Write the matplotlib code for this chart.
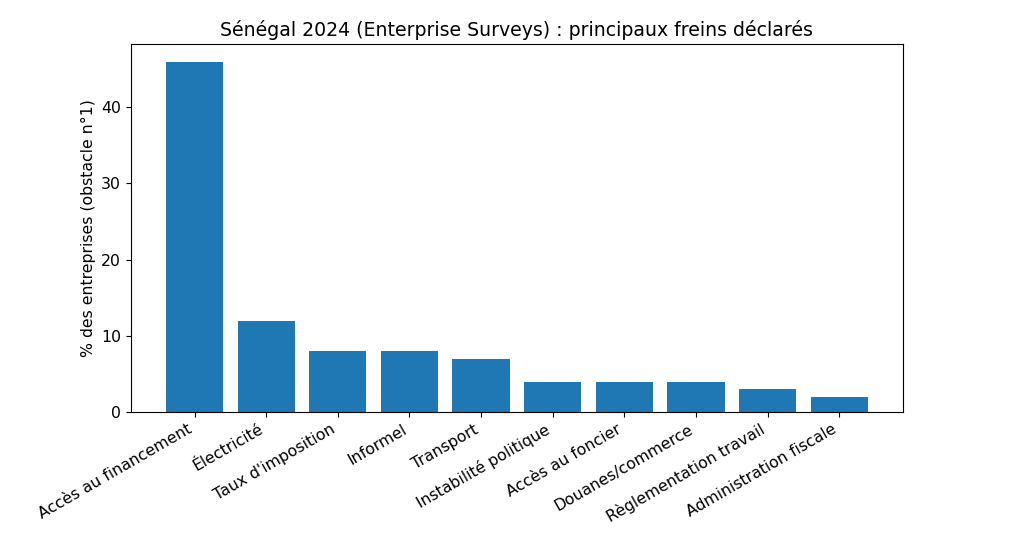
import matplotlib
matplotlib.use("Agg")
import matplotlib.pyplot as plt

categories = ["Accès au financement", "Électricité", "Taux d'imposition", "Informel",
              "Transport", "Instabilité politique", "Accès au foncier",
              "Douanes/commerce", "Règlementation travail", "Administration fiscale"]
values = [46, 12, 8, 8, 7, 4, 4, 4, 3, 2]

fig = plt.figure(figsize=(10.14, 5.39), dpi=100)
ax = fig.add_axes([0.129, 0.2356, 0.7615, 0.6828])
ax.bar(categories, values, color="#1f77b4")
ax.set_ylabel("% des entreprises (obstacle n°1)", fontsize=11.35)
ax.set_title("Sénégal 2024 (Enterprise Surveys) : principaux freins déclarés", fontsize=13.6)
ax.tick_params(labelsize=11.35)
plt.setp(ax.get_xticklabels(), rotation=30, ha="right")
fig.savefig("out.png", dpi=100)
